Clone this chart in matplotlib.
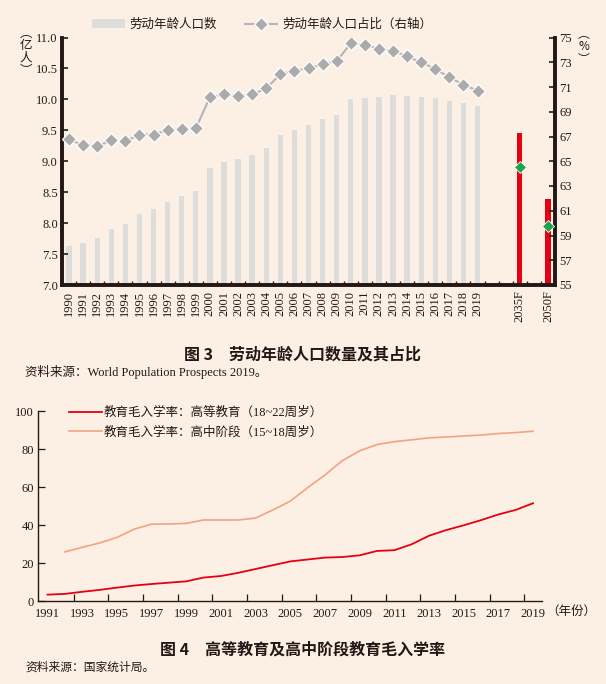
import numpy as np
import matplotlib.pyplot as plt
from matplotlib.patches import Patch
from matplotlib.lines import Line2D

plt.rcParams['font.family'] = ['Liberation Serif', 'Noto Sans CJK SC', 'DejaVu Sans']

BG = "#FCF0E5"
DARK = "#231815"

# ---- figure 3 data ----
years = [str(y) for y in range(1990, 2020)]
forecast_labels = ["2035F", "2050F"]
workforce = [7.63, 7.68, 7.76, 7.91, 7.99, 8.14, 8.23, 8.34, 8.44, 8.52,
             8.89, 8.99, 9.03, 9.10, 9.22, 9.42, 9.51, 9.59, 9.68, 9.75,
             10.01, 10.03, 10.04, 10.07, 10.05, 10.04, 10.03, 9.98, 9.94, 9.90]
workforce_forecast = [9.45, 8.39]
share = [66.76, 66.30, 66.22, 66.68, 66.60, 67.16, 67.16, 67.51, 67.59, 67.65,
         70.18, 70.40, 70.28, 70.40, 70.88, 72.04, 72.33, 72.50, 72.85, 73.09,
         74.52, 74.43, 74.08, 73.92, 73.47, 72.98, 72.47, 71.77, 71.20, 70.69]
share_forecast = [64.55, 59.76]

# ---- figure 4 data ----
edu_years = list(range(1991, 2020))
higher_edu = [3.5, 3.9, 5.0, 6.0, 7.2, 8.3, 9.1, 9.8, 10.5, 12.5,
              13.3, 15.0, 17.0, 19.0, 21.0, 22.0, 23.0, 23.3, 24.2, 26.5,
              26.9, 30.0, 34.5, 37.5, 40.0, 42.7, 45.7, 48.1, 51.6]
hs_years = list(range(1992, 2020))
high_school = [26.0, 28.4, 30.7, 33.6, 38.0, 40.6, 40.7, 41.0, 42.8, 42.8,
               42.8, 43.8, 48.1, 52.7, 59.8, 66.5, 74.0, 79.2, 82.5, 84.0,
               85.0, 86.0, 86.5, 87.0, 87.5, 88.3, 88.8, 89.5]

fig = plt.figure(figsize=(6.06, 6.84), dpi=100)
fig.patch.set_facecolor(BG)

# ================= figure 3 =================
ax = fig.add_axes([62 / 606, 1 - 285 / 684, 493 / 606, 247.5 / 684])
ax.set_facecolor(BG)
ax2 = ax.twinx()

x_hist = np.arange(len(years))
x_fc = np.array([32, 34])
bar_w = 0.38

ax.bar(x_hist, workforce, width=bar_w, color="#DDDDDB", zorder=1)
ax.bar(x_fc, workforce_forecast, width=bar_w, color="#E60012", zorder=1)
ax.set_ylim(7.0, 11.0)
ax.set_xlim(-0.5, 34.5)
ax.set_yticks(np.arange(7.0, 11.01, 0.5))
ax.set_yticklabels([f"{v:.1f}" for v in np.arange(7.0, 11.01, 0.5)])

ax.set_xticks(list(x_hist) + list(x_fc))
ax.set_xticklabels(years + forecast_labels, rotation=90)
ax.set_xticks(np.arange(0.5, 34, 1), minor=True)
ax.tick_params(axis="x", which="major", length=0, pad=4, labelsize=9, colors=DARK)
ax.tick_params(axis="x", which="minor", direction="in", length=3, width=1, color=DARK)
ax.tick_params(axis="y", direction="in", length=4, width=1.2, labelsize=9, colors=DARK, pad=3)

ax2.plot(x_hist, share, color="#B5B5B5", lw=1.5, marker="D", ms=7.5,
         markerfacecolor="#ABABAB", markeredgecolor="white", markeredgewidth=0.9, zorder=3)
ax2.plot(x_fc, share_forecast, ls="none", marker="D", ms=6.5,
         markerfacecolor="#1FA34A", markeredgecolor="white", markeredgewidth=0.6, zorder=3)
ax2.set_ylim(55, 75)
ax2.set_yticks(range(55, 76, 2))
ax2.tick_params(axis="y", direction="in", length=4, width=1.2, labelsize=9, colors=DARK, pad=3)

for a in (ax, ax2):
    a.spines["top"].set_visible(False)
    for side in ("left", "right", "bottom"):
        a.spines[side].set_linewidth(2.6)
        a.spines[side].set_color(DARK)

handles = [Patch(facecolor="#DDDDDB", edgecolor="none"),
           Line2D([], [], color="#B5B5B5", lw=1.5, marker="D", ms=7,
                  markerfacecolor="#ABABAB", markeredgecolor="white")]
fig.legend(handles, ["劳动年龄人口数", "劳动年龄人口占比（右轴）"],
           loc="center left", bbox_to_anchor=(81 / 606, 1 - 25 / 684), ncol=2,
           frameon=False, fontsize=9, handlelength=2.6, handletextpad=0.4,
           columnspacing=2.2, labelcolor=DARK)

fig.text(26 / 606, 1 - 52 / 684, "︵\n亿\n人\n︶", ha="center", va="center",
         fontsize=9, linespacing=0.95, color=DARK, family=["Noto Sans CJK SC"])
fig.text(584 / 606, 1 - 47 / 684, "︵\n%\n︶", ha="center", va="center",
         fontsize=8.5, linespacing=0.95, color=DARK, family=["Noto Sans CJK SC"])

fig.text(0.5, 1 - 355 / 684, "图 3　劳动年龄人口数量及其占比", ha="center", va="center",
         fontsize=11.5, fontweight="bold", color=DARK, family=["Noto Sans CJK SC"])
fig.text(25 / 606, 1 - 372 / 684, "资料来源：World Population Prospects 2019。",
         ha="left", va="center", fontsize=9, color=DARK)

# ================= figure 4 =================
bx = fig.add_axes([38 / 606, 1 - 601.3 / 684, 503.7 / 606, 190 / 684])
bx.set_facecolor(BG)
bx.plot(edu_years, higher_edu, color="#E60012", lw=1.3,
        label="教育毛入学率：高等教育（18~22周岁）")
bx.plot(hs_years, high_school, color="#F4A27E", lw=1.2,
        label="教育毛入学率：高中阶段（15~18周岁）")
bx.set_ylim(0, 100)
bx.set_xlim(1990.45, 2019.5)
bx.set_yticks(range(0, 101, 20))
bx.set_xticks(range(1991, 2020, 2))
bx.set_xticks(np.arange(1992.5, 2019, 2), minor=True)
bx.tick_params(axis="x", which="major", length=0, pad=5, labelsize=9, colors=DARK)
bx.tick_params(axis="x", which="minor", direction="in", length=5, width=0.9, color=DARK)
bx.tick_params(axis="y", direction="in", length=5, width=0.9, labelsize=9, colors=DARK, pad=3)
for side in ("top", "right"):
    bx.spines[side].set_visible(False)
for side in ("left", "bottom"):
    bx.spines[side].set_linewidth(1.0)
    bx.spines[side].set_color(DARK)

bx.legend(loc="upper left", bbox_to_anchor=(64 / 606, 1 - 402 / 684),
          bbox_transform=fig.transFigure, frameon=False, fontsize=9,
          handlelength=2.6, handletextpad=0.2, labelspacing=0.55, labelcolor=DARK,
          borderaxespad=0)

fig.text(546 / 606, 1 - 612 / 684, "（年份）", ha="left", va="center", fontsize=9, color=DARK)

fig.text(0.5, 1 - 650 / 684, "图 4　高等教育及高中阶段教育毛入学率", ha="center", va="center",
         fontsize=11.5, fontweight="bold", color=DARK, family=["Noto Sans CJK SC"])
fig.text(25 / 606, 1 - 668 / 684, "资料来源：国家统计局。",
         ha="left", va="center", fontsize=8.5, color=DARK)

fig.savefig("out.png", dpi=100, facecolor=BG)
